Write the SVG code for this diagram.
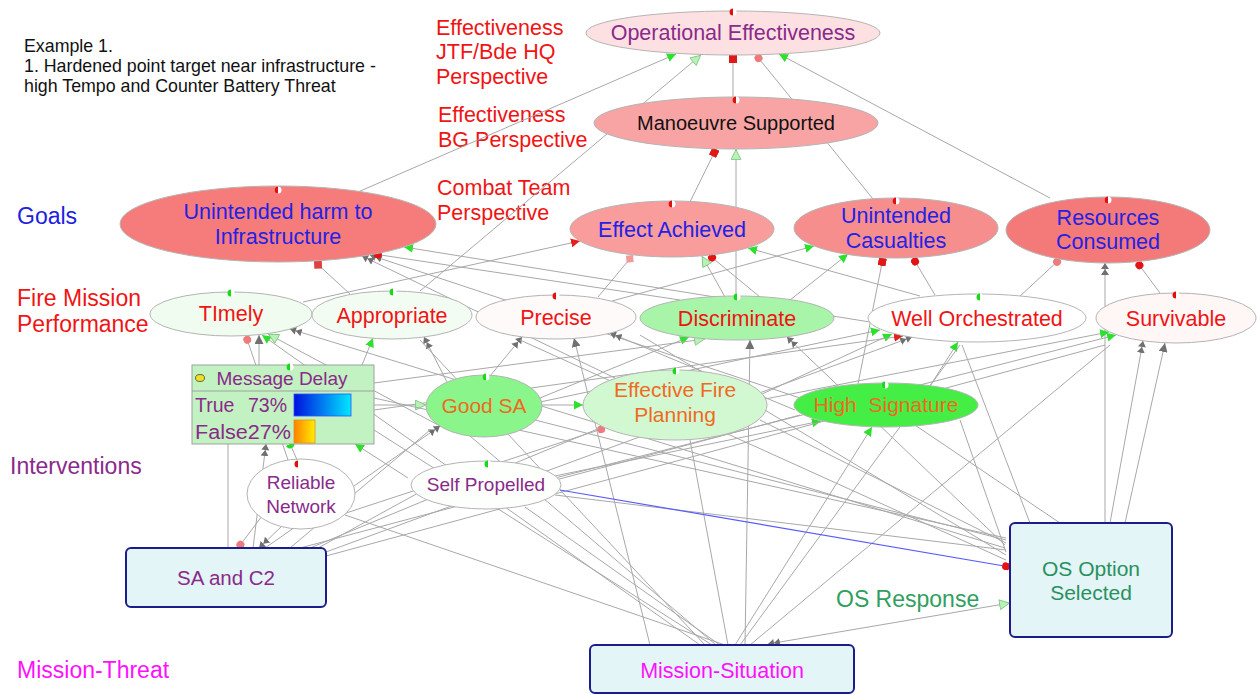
<svg xmlns="http://www.w3.org/2000/svg" xmlns:xlink="http://www.w3.org/1999/xlink" width="1260" height="695" viewBox="0 0 1260 695">
<style>
text{font-family:"Liberation Sans",Arial,sans-serif}
.e{stroke:#a8a8a8;stroke-width:1;fill:none}
.nd{stroke:#b4b4b4;stroke-width:1}
.box{fill:#e3f5f6;stroke:#1c1c8c;stroke-width:2}
.lbl{font-size:23px}
.per{font-size:21.5px;fill:#f01414}
.ex{font-size:17.8px;fill:#111}
.goal{font-size:21.5px;fill:#2222e6;text-anchor:middle}
.perf{font-size:21.5px;fill:#f01414;text-anchor:middle}
.intv{font-size:21px;fill:#f06a1e;text-anchor:middle}
.purp{font-size:19px;fill:#8a2a8a;text-anchor:middle}
.purpL{font-size:20.5px;fill:#8a2a8a;text-anchor:middle}
</style>
<defs>
<linearGradient id="gBlue" x1="0" x2="1"><stop offset="0" stop-color="#0010e0"/><stop offset="1" stop-color="#00e8ff"/></linearGradient>
<linearGradient id="gOr" x1="0" x2="1"><stop offset="0" stop-color="#ff8000"/><stop offset="1" stop-color="#ffee00"/></linearGradient>
<marker id="mG" viewBox="0 0 10 10" refX="10" refY="5" markerWidth="9" markerHeight="9" orient="auto" markerUnits="userSpaceOnUse"><path d="M0,0 L10,5 L0,10 z" fill="#2ee02e"/></marker>
<marker id="mLG" viewBox="0 0 10 10" refX="10" refY="5" markerWidth="11" markerHeight="11" orient="auto" markerUnits="userSpaceOnUse"><path d="M0.5,0.5 L9.5,5 L0.5,9.5 z" fill="#b8f2b8" stroke="#80c880" stroke-width="0.8"/></marker>
<marker id="mRA" viewBox="0 0 10 10" refX="10" refY="5" markerWidth="9" markerHeight="9" orient="auto" markerUnits="userSpaceOnUse"><path d="M0,0 L10,5 L0,10 z" fill="#e61e1e"/></marker>
<marker id="mRS" viewBox="0 0 10 10" refX="10" refY="5" markerWidth="8" markerHeight="8" orient="auto" markerUnits="userSpaceOnUse"><rect x="0" y="0" width="10" height="10" fill="#e01818"/></marker>
<marker id="mPC" viewBox="0 0 10 10" refX="10" refY="5" markerWidth="8" markerHeight="8" orient="auto" markerUnits="userSpaceOnUse"><circle cx="5" cy="5" r="5" fill="#f07a7a"/></marker>
<marker id="mRC" viewBox="0 0 10 10" refX="10" refY="5" markerWidth="8" markerHeight="8" orient="auto" markerUnits="userSpaceOnUse"><circle cx="5" cy="5" r="5" fill="#e41414"/></marker>
<marker id="mRD" viewBox="0 0 10 10" refX="10" refY="5" markerWidth="11" markerHeight="11" orient="auto" markerUnits="userSpaceOnUse"><path d="M0,5 L5,0 L10,5 L5,10 z" fill="#e04040"/></marker>
<marker id="mPD" viewBox="0 0 10 10" refX="10" refY="5" markerWidth="10" markerHeight="10" orient="auto" markerUnits="userSpaceOnUse"><path d="M0,5 L5,0 L10,5 L5,10 z" fill="#f09a9a"/></marker>
<marker id="mGD" viewBox="0 0 12 10" refX="12" refY="5" markerWidth="12" markerHeight="10" orient="auto" markerUnits="userSpaceOnUse"><path d="M0,1 L6,5 L0,9 z M6,1 L12,5 L6,9 z" fill="#707070"/></marker>
<marker id="mGDs" viewBox="0 0 12 10" refX="0" refY="5" markerWidth="12" markerHeight="10" orient="auto" markerUnits="userSpaceOnUse"><path d="M12,1 L6,5 L12,9 z M6,1 L0,5 L6,9 z" fill="#707070"/></marker>
<marker id="mGA" viewBox="0 0 10 10" refX="10" refY="5" markerWidth="9" markerHeight="9" orient="auto" markerUnits="userSpaceOnUse"><path d="M0,0 L10,5 L0,10 z" fill="#707070"/></marker>
<marker id="mGH" viewBox="0 0 10 10" refX="10" refY="5" markerWidth="9" markerHeight="9" orient="auto" markerUnits="userSpaceOnUse"><path d="M10,0 A5,5 0 0 0 10,10 z" fill="#22dd22"/></marker>
<g id="indR"><circle r="3.5" fill="#fff"/><path d="M0,-3.5 A3.5,3.5 0 0 0 0,3.5 z" fill="#e01010"/></g>
<g id="indG"><circle r="3.5" fill="#fff"/><path d="M0,-3.5 A3.5,3.5 0 0 0 0,3.5 z" fill="#18d818"/></g>
</defs>

<g id="labels">
<text class="ex" x="24" y="52">Example 1.</text>
<text class="ex" x="24" y="72">1. Hardened point target near infrastructure -</text>
<text class="ex" x="24" y="92">high Tempo and Counter Battery Threat</text>
<text class="per" x="436" y="35">Effectiveness</text>
<text class="per" x="436" y="59">JTF/Bde HQ</text>
<text class="per" x="436" y="84">Perspective</text>
<text class="per" x="438" y="122">Effectiveness</text>
<text class="per" x="438" y="147">BG Perspective</text>
<text class="per" x="437" y="195">Combat Team</text>
<text class="per" x="437" y="220">Perspective</text>
<text class="lbl" x="17" y="224" fill="#2020e0">Goals</text>
<text class="lbl" x="17" y="306" fill="#f01414">Fire Mission</text>
<text class="lbl" x="17" y="332" fill="#f01414">Performance</text>
<text class="lbl" x="10" y="474" fill="#8a2a8a">Interventions</text>
<text class="lbl" x="17" y="678" fill="#ff10ff">Mission-Threat</text>
<text class="lbl" x="836" y="607" fill="#30a060">OS Response</text>
</g>

<g id="connectors">
<line class="e" x1="358" y1="192" x2="676" y2="54" marker-end="url(#mG)"/>
<line class="e" x1="420" y1="291" x2="701" y2="55" marker-end="url(#mLG)"/>
<line class="e" x1="733" y1="97" x2="733" y2="55" marker-end="url(#mRS)"/>
<line class="e" x1="873" y1="199" x2="756" y2="55" marker-end="url(#mPC)"/>
<line class="e" x1="1050" y1="198" x2="779" y2="54" marker-end="url(#mG)"/>
<line class="e" x1="690" y1="202" x2="716" y2="149" marker-end="url(#mRS)"/>
<line class="e" x1="736" y1="296" x2="736" y2="149" marker-end="url(#mLG)"/>
<line class="e" x1="350" y1="294" x2="314" y2="261" marker-end="url(#mRD)"/>
<line class="e" x1="615" y1="378" x2="362" y2="256" marker-end="url(#mGD)"/>
<line class="e" x1="800" y1="398" x2="370" y2="255" marker-end="url(#mGD)"/>
<line class="e" x1="680" y1="300" x2="374" y2="254" marker-end="url(#mRC)"/>
<line class="e" x1="870" y1="322" x2="404" y2="247" marker-end="url(#mG)"/>
<line class="e" x1="303" y1="302" x2="580" y2="241" marker-end="url(#mRA)"/>
<line class="e" x1="598" y1="297" x2="633" y2="255" marker-end="url(#mPD)"/>
<line class="e" x1="725" y1="297" x2="702" y2="256" marker-end="url(#mLG)"/>
<line class="e" x1="760" y1="297" x2="709" y2="255" marker-end="url(#mRC)"/>
<line class="e" x1="920" y1="296" x2="748" y2="248" marker-end="url(#mG)"/>
<line class="e" x1="612" y1="301" x2="814" y2="246" marker-end="url(#mG)"/>
<line class="e" x1="790" y1="300" x2="848" y2="254" marker-end="url(#mG)"/>
<line class="e" x1="858" y1="384" x2="883" y2="258" marker-end="url(#mRS)"/>
<line class="e" x1="935" y1="295" x2="913" y2="258" marker-end="url(#mRC)"/>
<line class="e" x1="1018" y1="298" x2="1060" y2="259" marker-end="url(#mPC)"/>
<line class="e" x1="1105" y1="523" x2="1105" y2="263" marker-end="url(#mGD)"/>
<line class="e" x1="1160" y1="293" x2="1137" y2="262" marker-end="url(#mRC)"/>
<line class="e" x1="259" y1="365" x2="259" y2="335" marker-end="url(#mGA)"/>
<line class="e" x1="288" y1="460" x2="246" y2="336" marker-end="url(#mPC)"/>
<line class="e" x1="700" y1="645" x2="262" y2="335" marker-end="url(#mG)"/>
<line class="e" x1="440" y1="426" x2="268" y2="334" marker-end="url(#mLG)"/>
<line class="e" x1="1005" y1="548" x2="290" y2="329" marker-end="url(#mGD)"/>
<line class="e" x1="362" y1="365" x2="373" y2="338" marker-end="url(#mG)"/>
<line class="e" x1="447" y1="382" x2="424" y2="337" marker-end="url(#mGD)"/>
<line class="e" x1="490" y1="376" x2="522" y2="337" marker-end="url(#mGD)"/>
<line class="e" x1="650" y1="645" x2="574" y2="338" marker-end="url(#mGA)"/>
<line class="e" x1="795" y1="410" x2="610" y2="333" marker-end="url(#mGD)"/>
<line class="e" x1="540" y1="398" x2="689" y2="337" marker-end="url(#mG)"/>
<line class="e" x1="374" y1="383" x2="705" y2="339" marker-end="url(#mLG)"/>
<line class="e" x1="745" y1="645" x2="750" y2="340" marker-end="url(#mGA)"/>
<line class="e" x1="1005" y1="545" x2="787" y2="337" marker-end="url(#mGD)"/>
<line class="e" x1="540" y1="402" x2="880" y2="330" marker-end="url(#mG)"/>
<line class="e" x1="760" y1="395" x2="892" y2="334" marker-end="url(#mG)"/>
<line class="e" x1="374" y1="410" x2="903" y2="336" marker-end="url(#mRA)"/>
<line class="e" x1="326" y1="552" x2="912" y2="337" marker-end="url(#mGD)"/>
<line class="e" x1="930" y1="386" x2="958" y2="342" marker-end="url(#mG)"/>
<line class="e" x1="760" y1="400" x2="1109" y2="332" marker-end="url(#mG)"/>
<line class="e" x1="555" y1="478" x2="1116" y2="335" marker-end="url(#mG)"/>
<line class="e" x1="1110" y1="523" x2="1143" y2="341" marker-end="url(#mGD)"/>
<line class="e" x1="1125" y1="523" x2="1165" y2="343" marker-end="url(#mGA)"/>
<line class="e" x1="374" y1="405" x2="426" y2="405" marker-end="url(#mLG)"/>
<line class="e" x1="265" y1="548" x2="440" y2="426" marker-end="url(#mGD)"/>
<line class="e" x1="542" y1="405" x2="583" y2="405" marker-end="url(#mG)"/>
<line class="e" x1="340" y1="515" x2="605" y2="428" marker-end="url(#mPC)"/>
<line class="e" x1="545" y1="478" x2="821" y2="421" marker-end="url(#mG)"/>
<line class="e" x1="735" y1="645" x2="872" y2="427" marker-end="url(#mG)"/>
<line class="e" x1="298" y1="462" x2="290" y2="444" marker-end="url(#mGH)"/>
<line class="e" x1="408" y1="478" x2="355" y2="444" marker-end="url(#mG)"/>
<line class="e" x1="253" y1="548" x2="266" y2="444" marker-end="url(#mGD)"/>
<line class="e" x1="228" y1="548" x2="228" y2="444"/>
<line class="e" x1="262" y1="516" x2="238" y2="548" marker-end="url(#mPC)"/>
<line class="e" x1="282" y1="526" x2="259" y2="548" marker-end="url(#mGD)"/>
<line class="e" x1="300" y1="548" x2="800" y2="415"/>
<line class="e" x1="310" y1="548" x2="600" y2="428"/>
<line class="e" x1="318" y1="548" x2="420" y2="492"/>
<line class="e" x1="290" y1="548" x2="430" y2="430"/>
<line class="e" x1="326" y1="556" x2="1105" y2="345"/>
<line class="e" x1="712" y1="645" x2="374" y2="430"/>
<line class="e" x1="716" y1="645" x2="470" y2="436"/>
<line class="e" x1="720" y1="645" x2="525" y2="507"/>
<line class="e" x1="725" y1="645" x2="345" y2="515"/>
<line class="e" x1="728" y1="645" x2="690" y2="440"/>
<line class="e" x1="740" y1="645" x2="960" y2="345"/>
<line class="e" x1="750" y1="645" x2="1110" y2="345"/>
<line class="e" x1="705" y1="645" x2="420" y2="340"/>
<line class="e" x1="1006" y1="540" x2="535" y2="420"/>
<line class="e" x1="1006" y1="543" x2="760" y2="420"/>
<line class="e" x1="1006" y1="550" x2="555" y2="495"/>
<line class="e" x1="1006" y1="538" x2="374" y2="398"/>
<line class="e" x1="1006" y1="552" x2="960" y2="420"/>
<line class="e" x1="1006" y1="555" x2="640" y2="335"/>
<line class="e" x1="1030" y1="523" x2="962" y2="345"/>
<line class="e" x1="1006" y1="560" x2="520" y2="340"/>
<line class="e" x1="1060" y1="523" x2="900" y2="415"/>
<line class="e" x1="768" y1="644" x2="1010" y2="603" marker-start="url(#mGDs)" marker-end="url(#mLG)"/>
<line x1="560" y1="490" x2="1010" y2="567" stroke="#5a5aff" stroke-width="1.2" marker-end="url(#mRC)"/>
</g>

<g id="n-opeff"><ellipse class="nd" cx="733" cy="33" rx="147" ry="22" fill="#fde0e2"/><text x="733" y="40" font-size="21.5" fill="#8a2a8a" text-anchor="middle">Operational Effectiveness</text><use xlink:href="#indR" x="733" y="12"/></g>
<g id="n-manoeuvre"><ellipse class="nd" cx="736" cy="123" rx="142" ry="26" fill="#f9a4a4"/><text x="736" y="130" font-size="20" fill="#111" text-anchor="middle">Manoeuvre Supported</text><use xlink:href="#indR" x="736" y="100"/></g>
<g id="n-uharm"><ellipse class="nd" cx="278" cy="224" rx="158" ry="38" fill="#f67c7c"/><text class="goal" x="278" y="219">Unintended harm to</text><text class="goal" x="278" y="244">Infrastructure</text><use xlink:href="#indR" x="278" y="190"/></g>
<g id="n-effect"><ellipse class="nd" cx="672" cy="229" rx="102" ry="28" fill="#f89c9c"/><text class="goal" x="672" y="237">Effect Achieved</text><use xlink:href="#indR" x="672" y="204"/></g>
<g id="n-ucas"><ellipse class="nd" cx="896" cy="228" rx="102" ry="30" fill="#f78e8e"/><text class="goal" x="896" y="223">Unintended</text><text class="goal" x="896" y="248">Casualties</text><use xlink:href="#indR" x="896" y="201"/></g>
<g id="n-res"><ellipse class="nd" cx="1108" cy="230" rx="102" ry="33" fill="#f47a7a"/><text class="goal" x="1108" y="225">Resources</text><text class="goal" x="1108" y="249">Consumed</text><use xlink:href="#indR" x="1108" y="200"/></g>
<g id="n-timely"><ellipse class="nd" cx="231" cy="314" rx="81" ry="22" fill="#effcef"/><text class="perf" x="231" y="321">TImely</text><use xlink:href="#indG" x="231" y="293"/></g>
<g id="n-approp"><ellipse class="nd" cx="392" cy="315" rx="80" ry="24" fill="#f2fcf2"/><text class="perf" x="392" y="323">Appropriate</text><use xlink:href="#indG" x="393" y="292"/></g>
<g id="n-precise"><ellipse class="nd" cx="556" cy="317" rx="80" ry="22" fill="#fffafa"/><text class="perf" x="556" y="325">Precise</text><use xlink:href="#indR" x="556" y="296"/></g>
<g id="n-discr"><ellipse class="nd" cx="737" cy="318" rx="97" ry="22" fill="#a8f4a8"/><text class="perf" x="737" y="326">Discriminate</text><use xlink:href="#indG" x="737" y="297"/></g>
<g id="n-wellorch"><ellipse class="nd" cx="977" cy="318" rx="109" ry="24" fill="#ffffff"/><text class="perf" x="977" y="326">Well Orchestrated</text><use xlink:href="#indG" x="980" y="297"/></g>
<g id="n-surv"><ellipse class="nd" cx="1176" cy="318" rx="80" ry="25" fill="#fff6f6"/><text class="perf" x="1176" y="326">Survivable</text><use xlink:href="#indR" x="1176" y="295"/></g>
<g id="n-msgdelay">
<rect x="192" y="365" width="182" height="79" fill="#c2f2c2" stroke="#a0a0a0" stroke-width="1"/>
<line x1="192" y1="391" x2="374" y2="391" stroke="#a0a0a0"/>
<ellipse cx="200" cy="378" rx="4.5" ry="3.5" fill="#f0e020" stroke="#444" stroke-width="0.8"/>
<text x="282" y="385" font-size="19" fill="#8a2a8a" text-anchor="middle">Message Delay</text>
<text x="195" y="412" font-size="19.5" fill="#8a2a8a">True</text>
<text x="248" y="412" font-size="19.5" fill="#8a2a8a">73%</text>
<text x="195" y="439" font-size="19.5" fill="#8a2a8a" textLength="96" lengthAdjust="spacingAndGlyphs">False27%</text>
<rect x="294" y="394" width="57" height="22" fill="url(#gBlue)" stroke="#3050ff" stroke-width="0.8"/>
<rect x="294" y="420" width="21" height="23" fill="url(#gOr)" stroke="#e09020" stroke-width="0.8"/>
<use xlink:href="#indG" x="290" y="367"/>
</g>
<g id="n-goodsa"><ellipse class="nd" cx="484" cy="406" rx="58" ry="31" fill="#8af58a"/><text class="intv" x="484" y="413">Good SA</text><use xlink:href="#indG" x="486" y="377"/></g>
<g id="n-efp"><ellipse class="nd" cx="675" cy="405" rx="92" ry="35" fill="#d2f8d2"/><text class="intv" x="675" y="397">Effective Fire</text><text class="intv" x="675" y="422">Planning</text><use xlink:href="#indG" x="676" y="371"/></g>
<g id="n-highsig"><ellipse class="nd" cx="886" cy="405" rx="92" ry="22" fill="#44ee44"/><text class="intv" x="886" y="412" xml:space="preserve">High  Signature</text><use xlink:href="#indG" x="885" y="385"/></g>
<g id="n-reliable"><ellipse class="nd" cx="301" cy="494" rx="54" ry="35" fill="#ffffff"/><text class="purp" x="301" y="489">Reliable</text><text class="purp" x="301" y="513">Network</text><use xlink:href="#indR" x="298" y="464"/></g>
<g id="n-selfprop"><ellipse class="nd" cx="486" cy="485" rx="75" ry="24" fill="#fcfffc"/><text class="purp" x="486" y="491">Self Propelled</text><use xlink:href="#indG" x="488" y="464"/></g>
<g id="n-sac2"><rect class="box" x="126" y="548" width="200" height="59" rx="5"/><text class="purpL" x="226" y="585">SA and C2</text></g>
<g id="n-osopt"><rect class="box" x="1010" y="523" width="162" height="114" rx="5"/><text x="1091" y="576" font-size="21" fill="#2a9060" text-anchor="middle">OS Option</text><text x="1091" y="600" font-size="21" fill="#2a9060" text-anchor="middle">Selected</text></g>
<g id="n-mission"><rect class="box" x="590" y="645" width="264" height="48" rx="5"/><text x="722" y="678" font-size="21.5" fill="#ff10ff" text-anchor="middle">Mission-Situation</text></g>
</svg>
